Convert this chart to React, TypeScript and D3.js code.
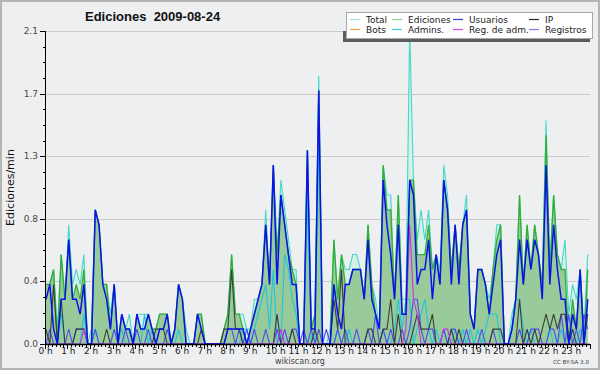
import * as d3 from "d3";

// edits per minute, one value per 10-minute bin (6 per hour, 24 hours)
const total = [
  0.4, 0.4, 0.5, 0.1, 0.6, 0.3,
  0.8, 0.4, 0.5, 0.4, 0.6, 0,
  0.1, 0.9, 0.8, 0.4, 0.4, 0.2,
  0.4, 0, 0.2, 0.1, 0.2, 0,
  0.2, 0.2, 0.2, 0.2, 0.1, 0.1,
  0.2, 0.2, 0.2, 0, 0.1, 0.4,
  0.3, 0.1, 0, 0, 0.2, 0.2,
  0, 0, 0, 0, 0, 0.1,
  0.2, 0.6, 0.2, 0.2, 0.2, 0.1,
  0.1, 0.3, 0.3, 0.4, 0.9, 0.4,
  1.2, 0.6, 1.1, 0.9, 0.7, 0.5,
  0.5, 0, 0, 1.3, 0.1, 0.2,
  1.8, 0, 0, 0.1, 0.7, 0.3,
  0.6, 0.5, 0.5, 0.6, 0.6, 0.5,
  0.3, 0.8, 0.4, 0.3, 0.1, 1.2,
  1.0, 1.0, 0.3, 1.0, 0.3, 0.3,
  2.1, 1.1, 0.7, 0.9, 0.7, 0.9,
  0.5, 0.6, 0.5, 1.2, 1.0, 0.5,
  0.8, 0.5, 0.8, 1.0, 0.2, 0.1,
  0.5, 0.5, 0.4, 0.3, 0.5, 0.8,
  0.8, 0, 0, 0.2, 0.3, 1.0,
  0.4, 0.8, 0.5, 0.8, 0.6, 0.4,
  1.5, 0.5, 1.0, 0.6, 0.5, 0.7,
  0.2, 0.4, 0.3, 0.5, 0.1, 0.6,
];

const ediciones = [
  0.4, 0.4, 0.5, 0, 0.6, 0.3,
  0.7, 0.3, 0.4, 0.3, 0.5, 0,
  0, 0.9, 0.8, 0.4, 0.4, 0.1,
  0.4, 0, 0.2, 0.1, 0.1, 0,
  0.2, 0.1, 0.1, 0.2, 0.1, 0.1,
  0.2, 0.2, 0.2, 0, 0.1, 0.4,
  0.3, 0, 0, 0, 0.2, 0.2,
  0, 0, 0, 0, 0, 0.1,
  0.2, 0.6, 0.2, 0.2, 0.1, 0,
  0.1, 0.2, 0.3, 0.4, 0.8, 0.4,
  1.2, 0.6, 1.0, 0.8, 0.6, 0.5,
  0.4, 0, 0, 1.3, 0.1, 0.2,
  1.7, 0, 0, 0, 0.7, 0.3,
  0.6, 0.4, 0.4, 0.5, 0.5, 0.5,
  0.3, 0.8, 0.4, 0.2, 0.1, 1.2,
  0.9, 0.9, 0.3, 1.0, 0.2, 0.2,
  1.1, 1.1, 0.6, 0.6, 0.6, 0.8,
  0.5, 0.6, 0.4, 1.1, 0.9, 0.5,
  0.8, 0.5, 0.8, 0.9, 0.2, 0.1,
  0.5, 0.5, 0.4, 0.2, 0.5, 0.7,
  0.8, 0, 0, 0.1, 0.3, 1.0,
  0.4, 0.8, 0.5, 0.8, 0.6, 0.4,
  1.4, 0.5, 1.0, 0.6, 0.5, 0.5,
  0, 0.3, 0.1, 0.5, 0, 0.5,
];

const usuarios = [
  0.3, 0.4, 0.1, 0, 0.3, 0.3,
  0.7, 0.3, 0.3, 0.2, 0.4, 0,
  0, 0.9, 0.8, 0.4, 0.3, 0.1,
  0.4, 0, 0.2, 0.1, 0.1, 0,
  0.2, 0.1, 0.1, 0.2, 0.1, 0,
  0.1, 0.1, 0.2, 0, 0.1, 0.4,
  0.3, 0, 0, 0, 0.2, 0.1,
  0, 0, 0, 0, 0, 0,
  0.1, 0.1, 0.1, 0.1, 0.1, 0,
  0.1, 0.2, 0.3, 0.4, 0.8, 0.4,
  1.2, 0.4, 1.0, 0.8, 0.6, 0.4,
  0.4, 0, 0, 1.3, 0.1, 0.1,
  1.7, 0, 0, 0, 0.4, 0.2,
  0.1, 0.4, 0.4, 0.5, 0.5, 0.5,
  0.3, 0.7, 0.3, 0.2, 0.1, 1.1,
  0.8, 0.6, 0.3, 0.8, 0.2, 0.2,
  1.1, 1.0, 0.4, 0.5, 0.5, 0.7,
  0.3, 0.6, 0.4, 1.1, 0.9, 0.4,
  0.8, 0.4, 0.8, 0.9, 0.2, 0.1,
  0.5, 0.5, 0.4, 0.2, 0.4, 0.6,
  0.7, 0, 0, 0.1, 0.3, 0.7,
  0.4, 0.7, 0.5, 0.7, 0.6, 0.3,
  1.2, 0.4, 0.8, 0.5, 0.3, 0.3,
  0, 0.2, 0.1, 0.5, 0, 0.3,
];

const ip = [
  0.1, 0, 0.4, 0, 0.3, 0,
  0, 0, 0.1, 0.1, 0.1, 0,
  0, 0, 0, 0, 0.1, 0,
  0, 0, 0, 0, 0, 0,
  0, 0, 0, 0, 0, 0.1,
  0.1, 0.1, 0, 0, 0, 0,
  0, 0, 0, 0, 0, 0.1,
  0, 0, 0, 0, 0, 0.1,
  0.1, 0.5, 0.1, 0.1, 0, 0,
  0, 0, 0, 0, 0, 0,
  0, 0.2, 0, 0, 0, 0.1,
  0, 0, 0, 0, 0, 0.1,
  0, 0, 0, 0, 0.3, 0.1,
  0.5, 0, 0, 0, 0, 0,
  0, 0.1, 0.1, 0, 0, 0.1,
  0.1, 0.3, 0, 0.2, 0, 0,
  0, 0.1, 0.2, 0.1, 0.1, 0.1,
  0.2, 0, 0, 0, 0, 0.1,
  0, 0.1, 0, 0, 0, 0,
  0, 0, 0, 0, 0.1, 0.1,
  0.1, 0, 0, 0, 0, 0.3,
  0, 0.1, 0, 0.1, 0, 0.1,
  0.2, 0.1, 0.2, 0.1, 0.2, 0.2,
  0, 0.1, 0, 0, 0, 0.2,
];

const admins = [
  0, 0, 0, 0, 0.2, 0,
  0, 0, 0, 0, 0.2, 0,
  0, 0.1, 0, 0, 0, 0,
  0, 0, 0.1, 0, 0, 0,
  0, 0, 0.2, 0, 0.1, 0,
  0, 0, 0, 0, 0, 0.1,
  0, 0, 0, 0, 0, 0,
  0, 0, 0, 0, 0, 0,
  0, 0, 0, 0, 0.1, 0.1,
  0, 0.1, 0.2, 0.3, 0.4, 0.1,
  0.5, 0, 0, 0.6, 0.5, 0.3,
  0.2, 0, 0, 1.0, 0, 0,
  1.4, 0, 0, 0, 0, 0.1,
  0, 0, 0.1, 0, 0, 0,
  0, 0, 0, 0, 0, 0.1,
  0, 0, 0.1, 0.3, 0.1, 0.3,
  0.3, 0, 0.1, 0.2, 0.3, 0.1,
  0, 0.1, 0, 0.1, 0, 0,
  0.1, 0, 0.1, 0, 0.1, 0,
  0.1, 0, 0.1, 0.2, 0.2, 0.2,
  0, 0, 0, 0.1, 0.3, 0.3,
  0.1, 0, 0.1, 0, 0, 0,
  0, 0.1, 0, 0, 0.1, 0,
  0, 0.1, 0, 0.1, 0, 0.3,
];

const regAdm = [
  0, 0, 0, 0, 0, 0,
  0, 0, 0, 0, 0.1, 0,
  0, 0, 0, 0, 0, 0,
  0, 0, 0, 0, 0, 0,
  0, 0, 0, 0, 0, 0,
  0, 0, 0, 0, 0, 0,
  0, 0, 0, 0, 0, 0,
  0, 0, 0, 0, 0, 0,
  0, 0, 0, 0, 0, 0,
  0, 0, 0, 0, 0, 0,
  0, 0, 0.1, 0, 0, 0,
  0, 0, 0, 0, 0, 0,
  0, 0, 0, 0, 0, 0,
  0, 0, 0, 0, 0, 0,
  0, 0, 0, 0, 0, 0,
  0, 0, 0, 0, 0, 0.1,
  0.8, 0.3, 0.2, 0, 0, 0,
  0, 0, 0, 0.1, 0.1, 0,
  0, 0, 0, 0, 0, 0,
  0, 0, 0, 0, 0, 0,
  0, 0, 0, 0, 0, 0,
  0, 0, 0, 0, 0, 0,
  0, 0, 0, 0, 0, 0,
  0, 0, 0, 0, 0, 0,
];

const registros = [
  0, 0.1, 0, 0, 0, 0,
  0.1, 0, 0.1, 0.1, 0.1, 0,
  0, 0.1, 0, 0, 0, 0,
  0.1, 0, 0, 0.1, 0, 0,
  0.1, 0, 0, 0.1, 0, 0,
  0, 0, 0.1, 0, 0, 0,
  0, 0, 0, 0, 0, 0,
  0, 0, 0, 0, 0, 0,
  0.1, 0.1, 0, 0.1, 0, 0.1,
  0, 0.1, 0, 0, 0.1, 0,
  0, 0.1, 0, 0.1, 0, 0.1,
  0.1, 0, 0.1, 0, 0.1, 0,
  0.1, 0, 0.1, 0, 0, 0.1,
  0, 0.1, 0, 0, 0.1, 0,
  0, 0.1, 0, 0.2, 0, 0.1,
  0, 0.1, 0, 0, 0.1, 0,
  0.1, 0.3, 0.3, 0.1, 0, 0.1,
  0.1, 0, 0, 0.1, 0, 0.1,
  0.1, 0, 0, 0.1, 0, 0,
  0, 0.1, 0, 0, 0.1, 0,
  0, 0, 0, 0, 0, 0.1,
  0, 0, 0.1, 0.1, 0.1, 0,
  0, 0.1, 0.1, 0, 0.2, 0,
  0.2, 0, 0.1, 0, 0.2, 0.1,
];

const yTicks = [0, 0.42, 0.84, 1.26, 1.68, 2.1];
const yTickLabels = ["0.0", "0.4", "0.8", "1.3", "1.7", "2.1"];
const hourLabels = [
  "0 h", "1 h", "2 h", "3 h", "4 h", "5 h", "6 h", "7 h", "8 h", "9 h", "10 h", "11 h",
  "12 h", "13 h", "14 h", "15 h", "16 h", "17 h", "18 h", "19 h", "20 h", "21 h", "22 h", "23 h",
];

const legendItems = [
  { label: "Total", color: "#a6e3dc" },
  { label: "Ediciones", color: "#8fd08f" },
  { label: "Usuarios", color: "#3b3bd8" },
  { label: "IP", color: "#2a2a2a" },
  { label: "Bots", color: "#f7a040" },
  { label: "Admins.", color: "#3ccbdc" },
  { label: "Reg. de adm.", color: "#c64be0" },
  { label: "Registros", color: "#7a7ae8" },
];

const FONT = "DejaVu Sans, sans-serif";

const App = () => {
  const width = 600;
  const height = 370;
  const left = 45;
  const right = 590;
  const top = 31;
  const bottom = 344;

  const x = d3.scaleLinear().domain([0, 1440]).range([left - 0.5, right]);
  const y = d3.scaleLinear().domain([0, 2.1]).range([bottom, top]);
  const px = (i: number) => x(i * 10 + 4);

  const line = d3
    .line<number>()
    .x((d, i) => px(i))
    .y((d) => y(d));
  const area = d3
    .area<number>()
    .x((d, i) => px(i))
    .y0(y(0))
    .y1((d) => y(d));

  const minorY = d3.range(0, 21).map((k) => k * 0.105);
  const minorX = d3.range(0, 145).map((k) => k * 10);

  const colX = [350, 392, 453, 529];
  const rowY = [19.5, 29.5];

  return (
    <svg
      width={width}
      height={height}
      style={{ position: "absolute", left: 0, top: 0 }}
      fontFamily={FONT}
    >
      <rect x={1} y={1} width={598} height={368} fill="#eeeff1" stroke="#b4b4b4" strokeWidth={2} />

      {yTicks.slice(1).map((t) => (
        <line key={t} x1={left} x2={right} y1={Math.round(y(t)) + 0.5} y2={Math.round(y(t)) + 0.5} stroke="#cacaca" />
      ))}

      <path d={area(total) || ""} fill="#d6f0ea" />
      <path d={area(ediciones) || ""} fill="#99cb9a" />
      <path d={line(total) || ""} fill="none" stroke="#44d8c8" strokeWidth={1.1} />
      <path d={line(ediciones) || ""} fill="none" stroke="#33ad33" strokeWidth={1.3} />
      <path d={line(admins) || ""} fill="none" stroke="#1fc6de" strokeWidth={1.1} />
      <path d={line(registros) || ""} fill="none" stroke="#4d4dee" strokeWidth={1.1} />
      <path d={line(ip) || ""} fill="none" stroke="#3c3c3c" strokeWidth={1.1} />
      <path d={line(regAdm) || ""} fill="none" stroke="#c833e2" strokeWidth={1.1} />
      <path d={line(usuarios) || ""} fill="none" stroke="#0a12e8" strokeWidth={1.5} />

      {/* y axis */}
      <line x1={left + 0.5} x2={left + 0.5} y1={top} y2={bottom + 1} stroke="#000" />
      {minorY.map((t, k) => (
        <line
          key={k}
          x1={k % 4 === 0 ? left - 5 : left - 2}
          x2={left}
          y1={Math.round(y(t)) + 0.5}
          y2={Math.round(y(t)) + 0.5}
          stroke="#000"
        />
      ))}
      {yTicks.map((t, k) => (
        <text key={t} x={left - 7} y={y(t) + 3} fontSize={9} fill="#4a4a4a" textAnchor="end">
          {yTickLabels[k]}
        </text>
      ))}

      {/* x axis */}
      <line x1={left} x2={right} y1={bottom + 0.5} y2={bottom + 0.5} stroke="#000" strokeWidth={1.5} />
      {minorX.map((m) => (
        <line
          key={m}
          x1={Math.round(x(m)) + 0.5}
          x2={Math.round(x(m)) + 0.5}
          y1={bottom}
          y2={m % 60 === 0 ? bottom + 5 : bottom + 3}
          stroke="#000"
        />
      ))}
      {hourLabels.map((h, k) => (
        <text key={h} x={x(k * 60) - 6} y={354} fontSize={9} fill="#222">
          {h}
        </text>
      ))}

      <text
        transform={`translate(14,${(top + bottom) / 2}) rotate(-90)`}
        fontSize={11}
        textAnchor="middle"
        fill="#111"
      >
        Ediciones/min
      </text>

      <text
        x={85}
        y={21}
        fontFamily="Liberation Sans, Arial, sans-serif"
        fontWeight="bold"
        fontSize={13}
        fill="#111"
        style={{ whiteSpace: "pre" }}
      >
        {"Ediciones  2009-08-24"}
      </text>

      {/* legend */}
      <rect x={343} y={31} width={247} height={11} fill="#5c5c5c" />
      <rect x={346.5} y={12.5} width={246} height={26} fill="#fff" stroke="#a8a8a8" />
      {legendItems.map((item, k) => {
        const cx = colX[k % 4];
        const cy = rowY[Math.floor(k / 4)];
        return (
          <g key={item.label}>
            <line x1={cx} x2={cx + 10} y1={cy} y2={cy} stroke={item.color} strokeWidth={1.2} />
            <text x={cx + 16} y={cy + 3.3} fontSize={9} fill="#222">
              {item.label}
            </text>
          </g>
        );
      })}

      <text x={300} y={364} fontSize={8} textAnchor="middle" fill="#444">
        wikiscan.org
      </text>
      <text x={589} y={364} fontSize={5.6} textAnchor="end" fill="#444">
        CC BY-SA 3.0
      </text>
    </svg>
  );
};

export default App;
